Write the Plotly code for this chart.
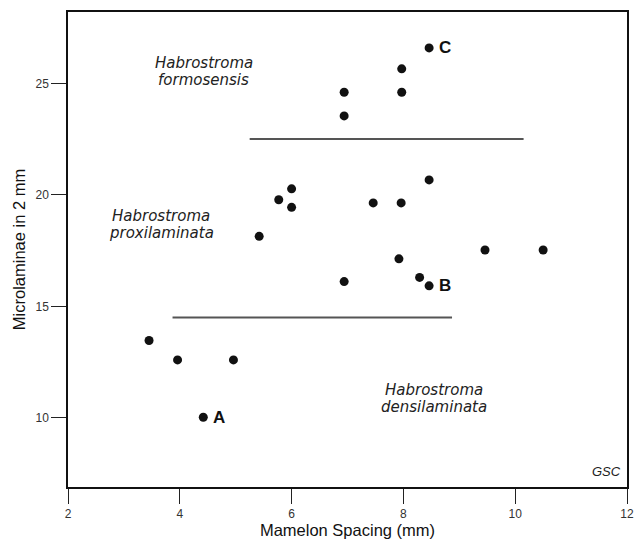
import plotly.graph_objects as go

# Data
spacing = [3.45, 3.96, 4.96, 4.42, 5.42, 5.77, 6.0, 6.0, 6.94, 7.46, 7.96,
           8.46, 7.92, 9.46, 10.5, 8.29, 8.46, 6.94, 6.94, 7.97, 7.97, 8.46]
microlaminae = [13.47, 12.6, 12.6, 10.03, 18.14, 19.78, 20.27, 19.44, 16.11,
                19.64, 19.64, 20.67, 17.13, 17.53, 17.53, 16.3, 15.92, 23.54,
                24.6, 24.6, 25.65, 26.59]
point_labels = ["", "", "", "A", "", "", "", "", "", "", "",
                "", "", "", "", "", "B", "", "", "", "", "C"]

# Boundary lines between species fields
upper_x = [5.25, 10.15]
upper_y = [22.5, 22.5]
lower_x = [3.87, 8.87]
lower_y = [14.5, 14.5]

genus_names = ["Habrostroma", "Habrostroma", "Habrostroma"]
species_names = ["formosensis", "proxilaminata", "densilaminata"]
species_x = [4.43, 3.67, 8.54]
species_y = [25.5, 18.67, 10.85]

x_ticks = [2, 4, 6, 8, 10, 12]
y_ticks = [10, 15, 20, 25]

FONT = "Liberation Sans, Arial, sans-serif"
WIDE = "DejaVu Sans, Liberation Sans, sans-serif"

fig = go.Figure()

for lx, ly in [(upper_x, upper_y), (lower_x, lower_y)]:
    fig.add_trace(go.Scatter(x=lx, y=ly, mode="lines",
                             line=dict(color="#555555", width=2),
                             hoverinfo="skip", showlegend=False))

fig.add_trace(go.Scatter(
    x=spacing, y=microlaminae, mode="markers",
    marker=dict(size=9, color="#111111"),
    showlegend=False))

for px, py, lab in zip(spacing, microlaminae, point_labels):
    if lab:
        fig.add_annotation(x=px, y=py, text=f"<b>{lab}</b>", showarrow=False,
                           xanchor="left", yanchor="middle", xshift=8,
                           font=dict(family=FONT, size=17, color="#111111"))

for g, s, sx, sy in zip(genus_names, species_names, species_x, species_y):
    fig.add_annotation(x=sx, y=sy, text=f"<i>{g}</i>", showarrow=False,
                       yshift=9, font=dict(family=WIDE, size=15, color="#222222"))
    fig.add_annotation(x=sx, y=sy, text=f"<i>{s}</i>", showarrow=False,
                       yshift=-8, font=dict(family=WIDE, size=15, color="#222222"))

fig.add_annotation(x=1, y=0, xref="paper", yref="paper", xanchor="right",
                   yanchor="bottom", xshift=-4, yshift=6,
                   text="<i>GSC</i>", showarrow=False,
                   font=dict(family=FONT, size=13, color="#222222"))

fig.update_xaxes(range=[2, 12], tickvals=x_ticks, ticks="outside", ticklen=15,
                 tickwidth=1.2, tickcolor="#222222", automargin=False,
                 showline=True, linecolor="#111111", linewidth=1.5, mirror=True,
                 showgrid=False, zeroline=False,
                 tickfont=dict(family=FONT, size=12, color="#333333"),
                 title=dict(text="Mamelon Spacing (mm)", standoff=4,
                            font=dict(family=FONT, size=16.5, color="#111111")))
fig.update_yaxes(range=[6.9, 28.2], tickvals=y_ticks, ticks="outside", ticklen=15,
                 tickwidth=1.2, tickcolor="#222222", automargin=False,
                 showline=True, linecolor="#111111", linewidth=1.5, mirror=True,
                 showgrid=False, zeroline=False,
                 tickfont=dict(family=FONT, size=12, color="#333333"),
                 title=dict(text="Microlaminae in 2 mm", standoff=6,
                            font=dict(family=FONT, size=16.5, color="#111111")))

fig.update_layout(width=644, height=542, plot_bgcolor="white",
                  paper_bgcolor="white",
                  margin=dict(l=68, r=17, t=12, b=55))

fig.write_html("out.html")
